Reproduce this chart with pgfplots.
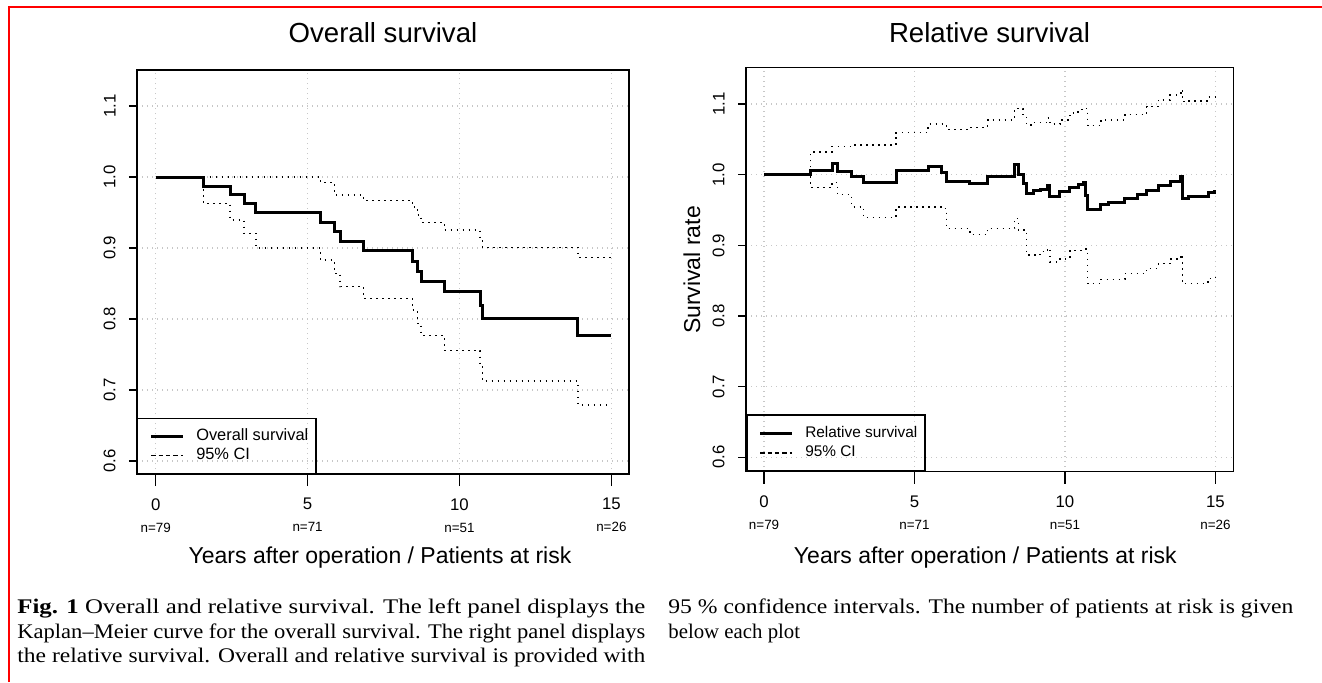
\documentclass[border=0pt]{standalone}
\usepackage{fontspec}
\setmainfont{Liberation Sans}
\newfontfamily\capfont[Ligatures=TeX]{Liberation Serif}
\usepackage{graphicx}
\usepackage{pgfplots}
\pgfplotsset{compat=1.18}

\pgfplotstableread{
x y
0 1.0
1.57 0.9873
2.45 0.9747
2.91 0.962
3.30 0.9494
5.43 0.9357
5.89 0.9228
6.07 0.9098
6.84 0.8966
8.46 0.8815
8.61 0.8676
8.74 0.8535
9.50 0.8385
10.68 0.8197
10.75 0.801
13.90 0.7765
15.0 0.7765
}\osmain
\pgfplotstableread{
x y
0 1.0
5.43 0.992
5.89 0.9747
6.84 0.9667
8.46 0.958
8.61 0.9465
8.74 0.936
9.50 0.9254
10.68 0.9136
10.75 0.901
13.90 0.8864
15.0 0.8864
}\osup
\pgfplotstableread{
x y
0 1.0
1.57 0.963
2.45 0.9394
2.91 0.9207
3.30 0.90
5.43 0.883
5.89 0.864
6.07 0.8455
6.84 0.829
8.46 0.8127
8.61 0.794
8.74 0.7765
9.50 0.7554
10.68 0.7328
10.75 0.7127
13.90 0.679
14.85 0.679
}\oslo
\pgfplotstableread{
x y
0 1.0
1.55 1.0057
2.26 1.016
2.44 1.004
2.90 0.997
3.30 0.989
4.39 1.006
5.45 1.011
5.90 1.003
6.06 0.991
6.84 0.988
7.43 0.998
8.33 1.014
8.45 1.0005
8.61 0.988
8.72 0.9736
8.94 0.977
9.17 0.979
9.42 0.985
9.50 0.969
9.83 0.976
10.16 0.9816
10.44 0.986
10.61 0.989
10.68 0.971
10.75 0.951
11.19 0.958
11.44 0.961
11.99 0.967
12.41 0.972
12.71 0.977
13.10 0.985
13.49 0.991
13.85 0.997
13.90 0.9665
14.10 0.969
14.76 0.9745
14.98 0.978
}\rsmain
\pgfplotstableread{
x y
0 1.0
1.55 1.032
2.26 1.04
2.90 1.042
4.39 1.0596
5.45 1.0715
6.06 1.064
6.84 1.067
7.43 1.0776
8.33 1.094
8.61 1.085
8.72 1.0705
8.94 1.074
9.42 1.080
9.50 1.0715
9.83 1.0776
10.16 1.087
10.44 1.092
10.61 1.094
10.75 1.0695
11.19 1.0776
11.99 1.085
12.71 1.0965
13.10 1.106
13.49 1.113
13.85 1.12
13.90 1.1035
14.10 1.1045
14.76 1.11
15.0 1.117
}\rsup
\pgfplotstableread{
x y
0 1.0
1.55 0.9816
2.26 0.989
2.44 0.972
2.90 0.9546
3.30 0.9396
4.39 0.9546
5.90 0.952
6.06 0.924
6.84 0.9155
7.43 0.924
8.33 0.938
8.45 0.9216
8.72 0.886
9.17 0.891
9.42 0.8956
9.50 0.8766
9.83 0.881
10.16 0.893
10.61 0.8946
10.75 0.846
11.19 0.852
11.99 0.860
12.71 0.867
13.10 0.874
13.49 0.881
13.85 0.887
13.90 0.846
14.76 0.853
15.0 0.857
}\rslo

\pgfplotsset{
  kmaxis/.style={
    scale only axis,
    axis line style={line width=0.75pt, black},
    grid=major,
    grid style={line width=0.6pt, color=black!22, dash pattern=on 0.6pt off 1.9pt},
    tick align=outside,
    xtick pos=bottom, ytick pos=left,
    major tick style={line width=0.75pt, black},
    major tick length=4pt,
    x tick style={/pgfplots/major tick length=6pt},
    xtick={0,5,10,15},
    ytick={0.6,0.7,0.8,0.9,1.0,1.1},
    yticklabels={0.6,0.7,0.8,0.9,1.0,1.1},
    yticklabel style={rotate=90, anchor=south, inner sep=0pt, yshift=6.5pt, font=\fontsize{8.4pt}{10pt}\selectfont},
    xticklabel style={align=center, inner sep=0pt, yshift=-8pt, font=\fontsize{8.4pt}{10pt}\selectfont},
    legend cell align=left,
    legend style={at={(0,0)}, anchor=south west, draw=black, line width=0.75pt, fill=none,
      font=\fontsize{8.2pt}{9.5pt}\selectfont, inner xsep=1.1pt, inner ysep=4pt, row sep=0pt,
      nodes={inner xsep=2.7pt, inner ysep=1.2pt},
      /tikz/every odd column/.style={column sep=3.3pt}},
    legend image code/.code={\path (0pt,0pt); \draw[##1] (4.85pt,0pt) -- (20.65pt,0pt);},
  },
  mainline/.style={const plot, no marks, black, line width=1.5pt},
  ciline/.style={const plot, no marks, black, line width=0.75pt, dash pattern=on 0.75pt off 2.25pt,
    legend image code/.code={\path (0pt,0pt); \draw[##1, dash pattern=on 2.2pt off 1.5pt] (4.85pt,0pt) -- (20.65pt,0pt);}},
}

\newcommand{\nlab}[2]{#1\\[1pt]{\fontsize{6.7pt}{7pt}\selectfont #2}}

\begin{document}
\begin{tikzpicture}
\useasboundingbox (0pt,0pt) rectangle (661pt,-341pt);
\fill[white] (0pt,0pt) rectangle (661pt,-341pt);

% red frame
\draw[red, line width=0.85pt] (4.35pt,-341pt) -- (4.35pt,-3.65pt) -- (661pt,-3.65pt);

% ---------- left panel ----------
\begin{axis}[kmaxis,
  at={(68.5pt,-237pt)}, anchor=south west,
  width=246pt, height=202pt,
  xmin=-0.616, xmax=15.58, ymin=0.5817, ymax=1.1507,
  xticklabels={\nlab{0}{n=79},\nlab{5}{n=71},\nlab{10}{n=51},\nlab{15}{n=26}},
]
\addplot[mainline] table {\osmain};
\addlegendentry{Overall survival}
\addplot[ciline] table {\osup};
\addlegendentry{95\% CI}
\addplot[ciline, forget plot] table {\oslo};
\end{axis}

% ---------- right panel ----------
\begin{axis}[kmaxis,
  at={(373pt,-235.85pt)}, anchor=south west,
  width=243.75pt, height=202.2pt,
  xmin=-0.6, xmax=15.6, ymin=0.5796, ymax=1.152,
  xticklabels={\nlab{0}{n=79},\nlab{5}{n=71},\nlab{10}{n=51},\nlab{15}{n=26}},
  legend style={font=\fontsize{7.7pt}{9pt}\selectfont, nodes={inner ysep=1.5pt}},
]
\addplot[mainline] table {\rsmain};
\addlegendentry{Relative survival}
\addplot[ciline] table {\rsup};
\addlegendentry{95\% CI}
\addplot[ciline, forget plot] table {\rslo};
\end{axis}

% titles and labels
\node[anchor=base, font=\fontsize{13.8pt}{16pt}\selectfont] at (191.5pt,-21.25pt) {Overall survival};
\node[anchor=base, font=\fontsize{13.8pt}{16pt}\selectfont] at (494.75pt,-21.25pt) {Relative survival};
\node[anchor=base, font=\fontsize{11.5pt}{14pt}\selectfont] at (190pt,-281.6pt) {Years after operation / Patients at risk};
\node[anchor=base, font=\fontsize{11.5pt}{14pt}\selectfont] at (492.65pt,-281.6pt) {Years after operation / Patients at risk};
\node[anchor=base, rotate=90, font=\fontsize{11.5pt}{14pt}\selectfont] at (350pt,-135pt) {Survival rate};

% caption
\begin{scope}[every node/.style={anchor=base west, inner sep=0pt, font=\capfont\fontsize{10.4pt}{12pt}\selectfont}]
\node at (8.5pt,-306.5pt) {\resizebox{314pt}{\height}{\textbf{Fig. 1} Overall and relative survival. The left panel displays the}};
\node at (8.5pt,-319pt) {\resizebox{314pt}{\height}{Kaplan–Meier curve for the overall survival. The right panel displays}};
\node at (8.5pt,-331pt) {\resizebox{314pt}{\height}{the relative survival. Overall and relative survival is provided with}};
\node at (334pt,-306.5pt) {\resizebox{312.5pt}{\height}{95 \% confidence intervals. The number of patients at risk is given}};
\node at (334pt,-319pt) {below each plot};
\end{scope}
\end{tikzpicture}
\end{document}
